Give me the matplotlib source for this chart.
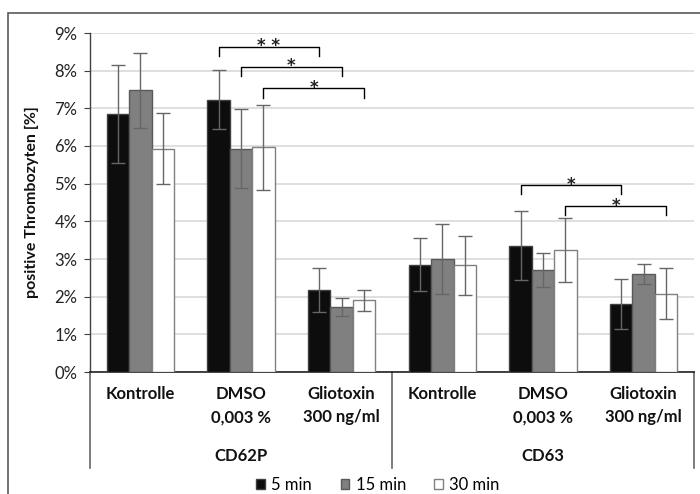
import matplotlib
matplotlib.use("Agg")
import matplotlib.pyplot as plt
from matplotlib.patches import Rectangle
from matplotlib.lines import Line2D
from matplotlib.ticker import FuncFormatter
import numpy as np

# ---- data ----
categories = ["Kontrolle", "DMSO\n0,003 %", "Gliotoxin\n300 ng/ml",
              "Kontrolle", "DMSO\n0,003 %", "Gliotoxin\n300 ng/ml"]
groups = ["CD62P", "CD63"]
series_names = ["5 min", "15 min", "30 min"]
vals_5 = [6.84, 7.23, 2.18, 2.85, 3.35, 1.80]
vals_15 = [7.48, 5.93, 1.73, 3.00, 2.70, 2.60]
vals_30 = [5.93, 5.97, 1.90, 2.83, 3.25, 2.08]
err_5 = [1.30, 0.79, 0.59, 0.70, 0.92, 0.67]
err_15 = [1.00, 1.05, 0.24, 0.92, 0.45, 0.26]
err_30 = [0.94, 1.13, 0.29, 0.78, 0.85, 0.68]
# significance brackets: (cat_a, series_a, cat_b, series_b, top, label)
sig_brackets = [
    (1, 0, 2, 0, 8.64, "* *"),
    (1, 1, 2, 1, 8.11, "*"),
    (1, 2, 2, 2, 7.53, "*"),
    (4, 0, 5, 0, 4.97, "*"),
    (4, 2, 5, 2, 4.41, "*"),
]
yticks = list(range(0, 10))

plt.rcParams['font.family'] = ['Lato', 'DejaVu Sans']

W, H = 700, 494
fig = plt.figure(figsize=(W / 100, H / 100), dpi=100)
ax = fig.add_axes([90 / W, 1 - 372 / H, 604 / W, 339 / H])

x = np.arange(len(categories))
bw = 0.223
offsets = [-bw, 0, bw]
fills = ["#0d0d0d", "#808080", "#ffffff"]
edges = ["#404040", "#595959", "#808080"]
all_vals = [vals_5, vals_15, vals_30]
all_errs = [err_5, err_15, err_30]

for i in range(3):
    ax.bar(x + offsets[i], all_vals[i], width=bw, color=fills[i],
           edgecolor=edges[i], linewidth=1.0, label=series_names[i], zorder=3)
    ax.errorbar(x + offsets[i], all_vals[i], yerr=all_errs[i], fmt="none",
                ecolor="#666666", elinewidth=1.0, capsize=5, capthick=1.0,
                zorder=4)

drop = 0.25
for ca, sa, cb, sb, top, lab in sig_brackets:
    xa = x[ca] + offsets[sa]
    xb = x[cb] + offsets[sb]
    ax.plot([xa, xa, xb, xb], [top - drop, top, top, top - drop],
            color="black", lw=1.0, zorder=5, clip_on=False)
    ax.text((xa + xb) / 2, top - 0.13, lab, ha="center", va="baseline",
            fontsize=12, fontweight="bold", color="#222222",
            family="DejaVu Sans")

ax.set_xlim(-0.5, len(categories) - 0.5)
ax.set_ylim(0, 9)
ax.set_yticks(yticks)
ax.yaxis.set_major_formatter(FuncFormatter(lambda v, p: f"{int(v)}%"))
ax.tick_params(axis="y", labelsize=12, length=4, color="#404040",
               labelcolor="#222222", pad=5)
ax.set_xticks([])
ax.grid(axis="y", color="#d9d9d9", lw=1.2, zorder=0)
ax.set_axisbelow(True)
for s in ["top", "right"]:
    ax.spines[s].set_visible(False)
ax.spines["left"].set_color("#404040")
ax.spines["bottom"].set_color("#222222")
ax.spines["left"].set_linewidth(1.0)
ax.spines["bottom"].set_linewidth(1.2)

tr = ax.get_xaxis_transform()
for i, c in enumerate(categories):
    ax.text(x[i], -0.042, c, transform=tr, ha="center", va="top",
            fontsize=12, fontweight="bold", linespacing=1.55, color="#111111")
for g, name in enumerate(groups):
    ax.text(x[g * 3 + 1], -0.248, name, transform=tr, ha="center",
            va="center", fontsize=12, fontweight="bold", color="#111111")
for sx in [-0.5, 2.5, 5.5]:
    ax.add_line(Line2D([sx, sx], [0, -0.283], transform=tr, color="#666666",
                       lw=1.2, clip_on=False))

ax.set_ylabel("positive Thrombozyten [%]", fontsize=11.5, fontweight="bold",
              color="#111111", labelpad=11)

leg = fig.legend(loc="center", bbox_to_anchor=(378 / W, 1 - 485 / H),
                 ncol=3, frameon=False, fontsize=12, handlelength=0.5,
                 handleheight=0.5, handletextpad=0.4, columnspacing=1.7)

fig.add_artist(Rectangle((8 / W, -0.2), 1.0, (H - 13) / H + 0.2,
                         transform=fig.transFigure, fill=False,
                         edgecolor="#595959", lw=1.2))

fig.savefig("out.png", dpi=100)
